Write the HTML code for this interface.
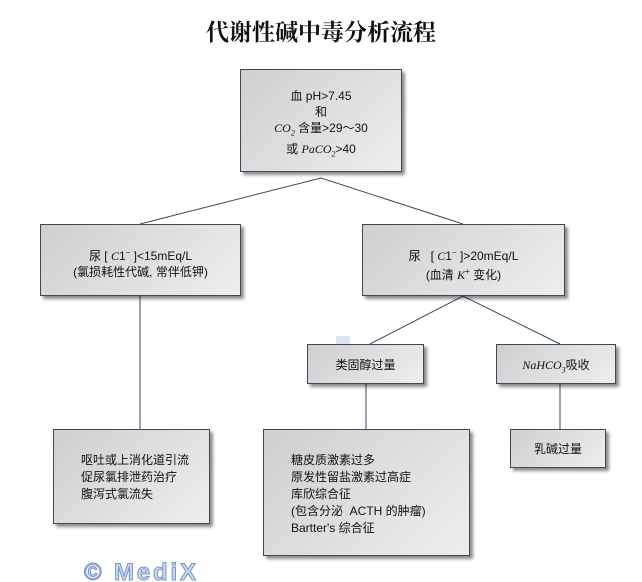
<!DOCTYPE html>
<html><head><meta charset="utf-8"><style>
body{margin:0;width:642px;height:582px;background:#fff;position:relative;overflow:hidden;font-family:"Liberation Sans","Noto Sans CJK SC",sans-serif;font-size:12px;color:#111}
.b{position:absolute;box-sizing:border-box;border:1px solid #3a4a5c;background:linear-gradient(135deg,#cfcfcf,#eeeeee);box-shadow:3px 3px 3px rgba(0,0,0,.45);text-align:center;line-height:16px}
.t{position:absolute;left:0;top:14px;width:642px;text-align:center;font-size:23px;font-weight:bold;font-family:"Liberation Serif","Noto Serif CJK SC",serif}
i{font-family:"Liberation Serif",serif}
.l{text-align:left}
</style></head><body>
<div class="t">代谢性碱中毒分析流程</div>
<svg style="position:absolute;left:0;top:0" width="642" height="582"><g stroke="#3a4a5c" stroke-width="1" fill="none">
<polyline points="140,224 321,178 463,224"/>
<line x1="140" y1="296" x2="140" y2="429"/>
<polyline points="370,344 463,296 560,344"/>
<line x1="366" y1="384" x2="366" y2="429"/>
<line x1="560" y1="384" x2="560" y2="429"/>
</g>
<rect x="336" y="336" width="14" height="8" fill="#dde4f0"/>
<text x="84" y="580" font-family="Liberation Sans" font-weight="bold" font-size="24" fill="#c8d6ee" stroke="#7a96c8" stroke-width="1" textLength="112">© MediX</text>
</svg>
<div class="b" style="left:240px;top:69px;width:162px;height:103px;padding-top:18px">血 pH&gt;7.45<br>和<br><i>CO<sub style="font-size:8px">2</sub></i> 含量&gt;29～30<br>或 <i>PaCO<sub style="font-size:8px">2</sub></i>&gt;40</div>
<div class="b" style="left:40px;top:224px;width:201px;height:72px;padding-top:20px">尿 [ <i>C</i>1<sup style="font-size:8px">−</sup> ]&lt;15mEq/L<br>(氯损耗性代碱, 常伴低钾)</div>
<div class="b" style="left:362px;top:224px;width:203px;height:72px;padding-top:20px">尿 &nbsp; [ <i>C</i>1<sup style="font-size:8px">−</sup> ]&gt;20mEq/L<br>(血清 <i>K</i><sup style="font-size:8px">+</sup> 变化)</div>
<div class="b" style="left:307px;top:344px;width:117px;height:40px;padding-top:12px">类固醇过量</div>
<div class="b" style="left:496px;top:344px;width:120px;height:40px;padding-top:12px"><i>NaHCO<sub style="font-size:8px">3</sub></i>吸收</div>
<div class="b l" style="left:53px;top:429px;width:157px;height:95px;padding:22px 0 0 27px;line-height:17px">呕吐或上消化道引流<br>促尿氯排泄药治疗<br>腹泻式氯流失</div>
<div class="b l" style="left:263px;top:429px;width:207px;height:127px;padding:22px 0 0 27px;line-height:17px">糖皮质激素过多<br>原发性留盐激素过高症<br>库欣综合征<br>(包含分泌 &nbsp;ACTH 的肿瘤)<br>Bartter's 综合征</div>
<div class="b" style="left:510px;top:429px;width:96px;height:39px;padding-top:11px">乳碱过量</div>
</body></html>
